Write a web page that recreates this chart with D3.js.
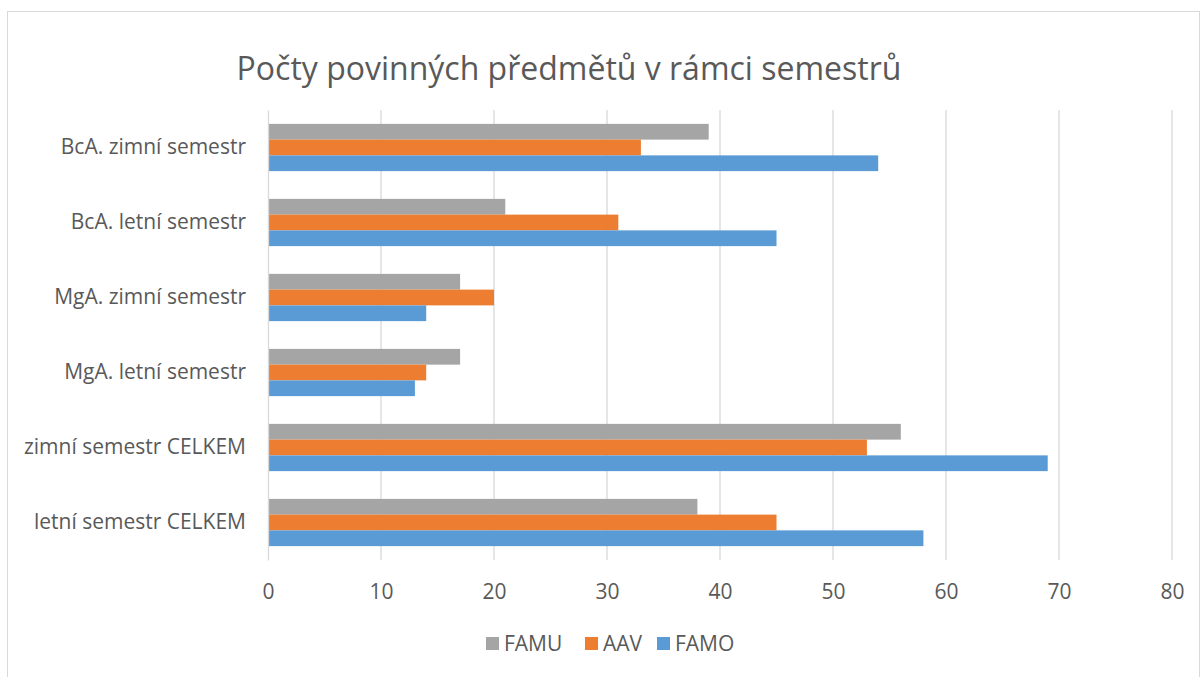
<!DOCTYPE html>
<html>
<head>
<meta charset="utf-8">
<script src="https://cdn.jsdelivr.net/npm/d3@7"></script>
<style>
  body { margin: 0; background: #fff; }
  #chart { width: 1202px; height: 677px; }
  text { font-family: "Open Sans", "Noto Sans", sans-serif; fill: #595959; }
</style>
</head>
<body>
<div id="chart"></div>
<script>
// Data
const categories = ["BcA. zimní semestr", "BcA. letní semestr", "MgA. zimní semestr",
    "MgA. letní semestr", "zimní semestr CELKEM", "letní semestr CELKEM"];
const seriesNames = ["FAMU", "AAV", "FAMO"];
const famu = [39, 21, 17, 17, 56, 38];
const aav = [33, 31, 20, 14, 53, 45];
const famo = [54, 45, 14, 13, 69, 58];
const xTicks = [0, 10, 20, 30, 40, 50, 60, 70, 80];
const colors = {FAMU: "#A5A5A5", AAV: "#ED7D31", FAMO: "#5B9BD5"};

const seriesValues = {FAMU: famu, AAV: aav, FAMO: famo};

function setupGraph() {
    const margin = {top: 110, right: 30, bottom: 117, left: 268};
    const W = 1202, H = 677;
    const width = W - margin.left - margin.right;
    const height = H - margin.top - margin.bottom;

    const svg = d3.select("#chart").append("svg")
        .attr("width", W)
        .attr("height", H);

    // outer chart border
    svg.append("rect")
        .attr("x", 7.5).attr("y", 11.5)
        .attr("width", 1192).attr("height", 680)
        .attr("fill", "none")
        .attr("stroke", "#D9D9D9");

    // title
    svg.append("text")
        .attr("x", 569)
        .attr("y", 80)
        .attr("text-anchor", "middle")
        .style("font-size", "32px")
        .text("Počty povinných předmětů v rámci semestrů");

    const g = svg.append("g")
        .attr("transform", `translate(${margin.left},${margin.top})`);

    const x = d3.scaleLinear()
        .domain([0, 80])
        .range([0, width]);

    const y = d3.scaleBand()
        .domain(categories)
        .range([0, height])
        .paddingInner(0.37)
        .paddingOuter(0.185);

    const ySub = d3.scaleBand()
        .domain(seriesNames)
        .range([0, y.bandwidth()]);

    // gridlines
    g.append("g")
        .selectAll("line")
        .data(xTicks.slice(1))
        .join("line")
        .attr("x1", d => x(d)).attr("x2", d => x(d))
        .attr("y1", 0).attr("y2", height)
        .attr("stroke", "#D9D9D9")
        .attr("stroke-width", 1.3);

    // x axis labels
    const xAxis = g.append("g")
        .attr("transform", `translate(0,${height})`)
        .call(d3.axisBottom(x).tickValues(xTicks).tickSize(0).tickPadding(24));
    xAxis.select(".domain").remove();
    xAxis.selectAll("text")
        .style("font-size", "21px")
        .style("font-family", "'Open Sans', sans-serif")
        .attr("fill", "#595959");

    // bars
    categories.forEach((cat, i) => {
        seriesNames.forEach(s => {
            g.append("rect")
                .attr("x", x(0))
                .attr("y", y(cat) + ySub(s))
                .attr("width", x(seriesValues[s][i]) - x(0))
                .attr("height", ySub.bandwidth())
                .attr("fill", colors[s]);
        });
    });

    // y axis
    const yAxis = g.append("g")
        .call(d3.axisLeft(y).tickSize(0).tickPadding(22));
    yAxis.select(".domain")
        .attr("stroke", "#D9D9D9")
        .attr("stroke-width", 1.3);
    yAxis.selectAll("text")
        .style("font-size", "21px")
        .style("font-family", "'Open Sans', sans-serif")
        .attr("fill", "#595959");

    // legend
    const legendX = [486, 585, 657];
    const legend = svg.append("g");
    seriesNames.forEach((s, i) => {
        legend.append("rect")
            .attr("x", legendX[i]).attr("y", 637)
            .attr("width", 13).attr("height", 13)
            .attr("fill", colors[s]);
        legend.append("text")
            .attr("x", legendX[i] + 18).attr("y", 651)
            .style("font-size", "21px")
            .text(s);
    });
}

setupGraph();
</script>
</body>
</html>
